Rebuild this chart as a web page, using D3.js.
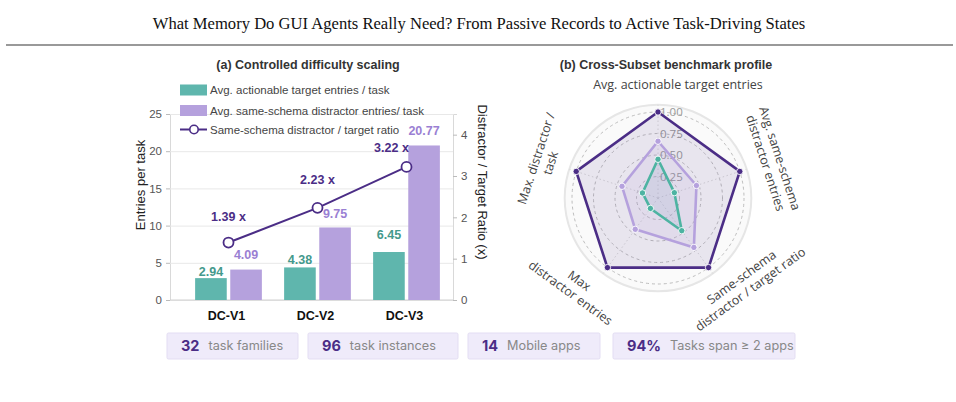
<!DOCTYPE html>
<html>
<head>
<meta charset="utf-8">
<script src="https://cdn.jsdelivr.net/npm/d3@7/dist/d3.min.js"></script>
<style>
  body { margin: 0; background: #fff; }
  svg { display: block; }
</style>
</head>
<body>
<svg id="chart"></svg>
<script>
// ---- data ----
const categories = ['DC-V1', 'DC-V2', 'DC-V3']
const targetEntries = [2.94, 4.38, 6.45]
const distractorEntries = [4.09, 9.75, 20.77]
const ratioValues = [1.39, 2.23, 3.22]
const leftTicks = [0, 5, 10, 15, 20, 25]
const rightTicks = [0, 1, 2, 3, 4]
const legendLabels = [
  'Avg. actionable target entries / task',
  'Avg. same-schema distractor entries/ task',
  'Same-schema distractor / target ratio'
]

const radarAxes = [
  ['Avg. actionable target entries'],
  ['Avg. same-schema', 'distractor entries'],
  ['Same-schema', 'distractor / target ratio'],
  ['Max', 'distractor entries'],
  ['Max. distractor /', 'task']
]
const radarV3 = [1.0, 1.0, 1.0, 1.0, 1.0]
const radarV2 = [0.66, 0.47, 0.71, 0.45, 0.44]
const radarV1 = [0.45, 0.20, 0.47, 0.15, 0.19]
const radarTicks = [0.25, 0.5, 0.75, 1.0]

const statNumbers = ['32', '96', '14', '94%']
const statLabels = ['task families', 'task instances', 'Mobile apps', 'Tasks span \u2265 2 apps']

const pageTitle = 'What Memory Do GUI Agents Really Need? From Passive Records to Active Task-Driving States'

// ---- colours ----
const TEAL = '#5fb6ad'
const TEAL_TXT = '#44998c'
const LAV = '#b5a1dd'
const LAV_TXT = '#9a7fd3'
const DARK = '#4b2d86'

const width = 956
const height = 402
const svg = d3.select('#chart').attr('width', width).attr('height', height)
const sans = "'Liberation Sans', Arial, sans-serif"

// page header
svg.append('text')
  .attr('x', 479).attr('y', 29)
  .attr('text-anchor', 'middle')
  .style('font-family', "'Liberation Serif', 'DejaVu Serif', serif")
  .style('font-size', '16.6px')
  .style('fill', '#111')
  .text(pageTitle)
svg.append('line')
  .attr('x1', 6).attr('x2', 953).attr('y1', 45).attr('y2', 45)
  .attr('stroke', '#777').attr('stroke-width', 1.6)

// ================= (a) bar chart =================
const padLeft = 170, padRight = 453, padTop = 114, baseY = 300

const yLeft = d3.scaleLinear().domain([0, 25]).range([baseY, padTop])
const yRight = d3.scaleLinear().domain([0, 4.5]).range([baseY, padTop])
const x0 = d3.scaleBand().domain(categories).range([184, 451]).paddingInner(0.25).paddingOuter(0.125)
const x1 = d3.scaleBand().domain(['t', 'd']).range([0, x0.bandwidth()]).paddingInner(0.1)

svg.append('text')
  .attr('x', 308).attr('y', 69)
  .attr('text-anchor', 'middle')
  .style('font-family', sans).style('font-weight', 'bold')
  .style('font-size', '12.5px').style('fill', '#333')
  .text('(a) Controlled difficulty scaling')

// grid + left axis
svg.append('g')
  .attr('transform', 'translate(' + padLeft + ',0)')
  .call(d3.axisLeft(yLeft).tickValues(leftTicks).tickSize(-(padRight - padLeft)).tickPadding(8))
  .call(g => g.select('.domain').attr('stroke', '#d9d9d9'))
  .call(g => g.selectAll('.tick line').attr('stroke', '#e8e8e8'))
  .call(g => g.selectAll('.tick text').style('font-family', sans).style('font-size', '11.5px').style('fill', '#555'))
svg.append('g')
  .attr('transform', 'translate(' + padLeft + ',0)')
  .call(d3.axisLeft(yLeft).tickValues(leftTicks).tickSize(4).tickFormat(''))
  .call(g => g.select('.domain').remove())
  .call(g => g.selectAll('.tick line').attr('stroke', '#bbb'))

// right axis
svg.append('g')
  .attr('transform', 'translate(' + padRight + ',0)')
  .call(d3.axisRight(yRight).tickValues(rightTicks).tickFormat(d3.format('d')).tickSize(4).tickPadding(4))
  .call(g => g.select('.domain').attr('stroke', '#d9d9d9'))
  .call(g => g.selectAll('.tick line').attr('stroke', '#bbb'))
  .call(g => g.selectAll('.tick text').style('font-family', sans).style('font-size', '11.5px').style('fill', '#555'))

// baseline
svg.append('line')
  .attr('x1', padLeft).attr('x2', padRight).attr('y1', baseY).attr('y2', baseY)
  .attr('stroke', '#d0d0d0')

// axis titles
svg.append('text')
  .attr('transform', 'translate(140,185) rotate(-90)')
  .attr('text-anchor', 'middle').attr('dy', '0.35em')
  .style('font-family', sans).style('font-size', '13px').style('fill', '#222')
  .text('Entries per task')
svg.append('text')
  .attr('transform', 'translate(483,182) rotate(90)')
  .attr('text-anchor', 'middle').attr('dy', '0.35em')
  .style('font-family', sans).style('font-size', '13px').style('fill', '#222')
  .text('Distractor / Target Ratio (x)')

// bars
const groups = svg.append('g').selectAll('g')
  .data(categories)
  .join('g')
  .attr('transform', d => 'translate(' + x0(d) + ',0)')
groups.append('rect')
  .attr('x', x1('t')).attr('width', x1.bandwidth())
  .attr('y', (d, i) => yLeft(targetEntries[i]))
  .attr('height', (d, i) => baseY - yLeft(targetEntries[i]))
  .attr('fill', TEAL)
groups.append('rect')
  .attr('x', x1('d')).attr('width', x1.bandwidth())
  .attr('y', (d, i) => yLeft(distractorEntries[i]))
  .attr('height', (d, i) => baseY - yLeft(distractorEntries[i]))
  .attr('fill', LAV)

// value labels (layout nudges so they stay clear of the line)
const tealLift = [7, 8, 17]
const lavLift = [15, 14, 15]
groups.append('text')
  .attr('x', x1('t') + x1.bandwidth() / 2)
  .attr('y', (d, i) => yLeft(targetEntries[i]) - tealLift[i])
  .attr('dy', '0.35em').attr('text-anchor', 'middle')
  .style('font-family', sans).style('font-weight', 'bold').style('font-size', '12.5px')
  .style('fill', TEAL_TXT)
  .text((d, i) => targetEntries[i].toFixed(2))
groups.append('text')
  .attr('x', x1('d') + x1.bandwidth() / 2)
  .attr('y', (d, i) => yLeft(distractorEntries[i]) - lavLift[i])
  .attr('dy', '0.35em').attr('text-anchor', 'middle')
  .style('font-family', sans).style('font-weight', 'bold').style('font-size', '12.5px')
  .style('fill', LAV_TXT)
  .text((d, i) => distractorEntries[i].toFixed(2))

// ratio line
const cx = d => x0(d) + x0.bandwidth() / 2
const line = d3.line()
  .x((d, i) => cx(categories[i]))
  .y(d => yRight(d))
svg.append('path')
  .attr('d', line(ratioValues))
  .attr('fill', 'none').attr('stroke', DARK).attr('stroke-width', 2)
svg.append('g').selectAll('circle')
  .data(ratioValues)
  .join('circle')
  .attr('cx', (d, i) => cx(categories[i]))
  .attr('cy', d => yRight(d))
  .attr('r', 5)
  .attr('fill', '#fff').attr('stroke', DARK).attr('stroke-width', 1.8)
const ratioDx = [0, 0, -15]
const ratioDy = [26, 28, 19]
svg.append('g').selectAll('text')
  .data(ratioValues)
  .join('text')
  .attr('x', (d, i) => cx(categories[i]) + ratioDx[i])
  .attr('y', (d, i) => yRight(d) - ratioDy[i])
  .attr('dy', '0.35em').attr('text-anchor', 'middle')
  .style('font-family', sans).style('font-weight', 'bold').style('font-size', '12.5px')
  .style('fill', DARK)
  .text(d => d.toFixed(2) + ' x')

// category labels
svg.append('g').selectAll('text')
  .data(categories)
  .join('text')
  .attr('x', d => cx(d) - 2)
  .attr('y', 316).attr('dy', '0.35em').attr('text-anchor', 'middle')
  .style('font-family', sans).style('font-weight', 'bold').style('font-size', '12.5px')
  .style('fill', '#111')
  .text(d => d)

// legend
const legend = svg.append('g').attr('transform', 'translate(180,0)')
const legendY = [90, 110.5, 129.5]
legend.append('rect').attr('x', 0).attr('y', legendY[0] - 5.5).attr('width', 27).attr('height', 11).attr('fill', TEAL)
legend.append('rect').attr('x', 0).attr('y', legendY[1] - 5.5).attr('width', 27).attr('height', 11).attr('fill', LAV)
legend.append('line').attr('x1', 0).attr('x2', 27).attr('y1', legendY[2]).attr('y2', legendY[2])
  .attr('stroke', DARK).attr('stroke-width', 2)
legend.append('circle').attr('cx', 14).attr('cy', legendY[2]).attr('r', 4.2)
  .attr('fill', '#fff').attr('stroke', DARK).attr('stroke-width', 1.6)
legend.selectAll('text.lg')
  .data(legendLabels)
  .join('text')
  .attr('class', 'lg')
  .attr('x', 30).attr('y', (d, i) => legendY[i]).attr('dy', '0.35em')
  .style('font-family', sans).style('font-size', '11.5px').style('fill', '#444')
  .text(d => d)

// ================= (b) radar =================
const rcx = 658, rcy = 198
const rScale = d3.scaleLinear().domain([0, 1]).range([0, 86])
const nAxes = radarAxes.length
const ang = i => i * 2 * Math.PI / nAxes
const pt = (v, i) => [rcx + rScale(v) * Math.sin(ang(i)), rcy - rScale(v) * Math.cos(ang(i))]

svg.append('text')
  .attr('x', 666).attr('y', 69)
  .attr('text-anchor', 'middle')
  .style('font-family', sans).style('font-weight', 'bold')
  .style('font-size', '12.5px').style('fill', '#333')
  .text('(b) Cross-Subset benchmark profile')

const radar = svg.append('g')
radar.append('circle')
  .attr('cx', rcx).attr('cy', rcy).attr('r', rScale(1.085))
  .attr('fill', '#fafafa').attr('stroke', '#e6e6e6').attr('stroke-width', 2)
radar.selectAll('circle.ring')
  .data(radarTicks)
  .join('circle')
  .attr('class', 'ring')
  .attr('cx', rcx).attr('cy', rcy).attr('r', d => rScale(d))
  .attr('fill', 'none').attr('stroke', '#bdbdbd').attr('stroke-width', 1)
  .attr('stroke-dasharray', '3,3')
radar.selectAll('line.spoke')
  .data(radarAxes)
  .join('line')
  .attr('class', 'spoke')
  .attr('x1', rcx).attr('y1', rcy)
  .attr('x2', (d, i) => pt(1.085, i)[0]).attr('y2', (d, i) => pt(1.085, i)[1])
  .attr('stroke', '#d8d8d8').attr('stroke-width', 1).attr('stroke-dasharray', '1.5,2.5')

const radarData = [
  { vals: radarV3, stroke: DARK, fill: 'rgba(75,45,134,0.10)' },
  { vals: radarV2, stroke: LAV, fill: 'rgba(181,161,221,0.14)' },
  { vals: radarV1, stroke: '#4db3a2', fill: 'rgba(120,150,190,0.14)' }
]
const radarLine = d3.line().curve(d3.curveLinearClosed)

// tick labels along the top axis
radar.selectAll('text.rt')
  .data(radarTicks)
  .join('text')
  .attr('class', 'rt')
  .attr('x', rcx + 2).attr('y', d => rcy - rScale(d)).attr('dy', '0.35em')
  .style('font-family', "'Open Sans', sans-serif").style('font-size', '11.5px').style('fill', '#999')
  .text(d => d.toFixed(2))

radarData.forEach(s => {
  radar.append('path')
    .attr('d', radarLine(s.vals.map((v, i) => pt(v, i))))
    .attr('fill', s.fill).attr('stroke', s.stroke).attr('stroke-width', 2.6)
    .attr('stroke-linejoin', 'round')
  radar.append('g').selectAll('circle')
    .data(s.vals)
    .join('circle')
    .attr('cx', (v, i) => pt(v, i)[0]).attr('cy', (v, i) => pt(v, i)[1])
    .attr('r', 3.2)
    .attr('fill', s.stroke).attr('stroke', '#fff').attr('stroke-width', 0.9)
})

// axis labels, tangential and kept upright
const labelNudge = [20, 0, -21, 15, 0]
radarAxes.forEach((lines, i) => {
  const deg = i * 360 / nAxes
  let rot = deg
  if (deg > 90 && deg < 270) rot = deg - 180
  else if (deg >= 270) rot = deg - 360
  const rr = 106 + lines.length * 7.3
  const a = ang(i)
  const px = rcx + rr * Math.sin(a) + labelNudge[i] * Math.cos(a)
  const py = rcy - rr * Math.cos(a) + labelNudge[i] * Math.sin(a)
  const t = svg.append('text')
    .attr('transform', 'translate(' + px + ',' + py + ') rotate(' + rot + ')')
    .attr('text-anchor', 'middle')
    .style('font-family', "'Open Sans', sans-serif").style('font-size', '12.5px').style('fill', '#444')
  const lh = 15
  lines.forEach((s, k) => {
    t.append('tspan')
      .attr('x', 0)
      .attr('y', (k - (lines.length - 1) / 2) * lh)
      .attr('dy', '0.35em')
      .text(s)
  })
})

// ================= stat boxes =================
const boxX = [167, 308, 468, 613]
const boxW = [131, 150, 132, 182]
const stats = svg.append('g')
statNumbers.forEach((num, i) => {
  const g = stats.append('g')
  g.append('rect')
    .attr('x', boxX[i]).attr('width', boxW[i])
    .attr('y', 333).attr('height', 26).attr('rx', 1.5)
    .attr('fill', '#efebfa').attr('stroke', '#e3ddf3')
  const nt = g.append('text')
    .attr('x', boxX[i] + 14).attr('y', 346).attr('dy', '0.35em')
    .style('font-family', "Inter, 'Liberation Sans', sans-serif").style('font-weight', 'bold')
    .style('font-size', '14.5px').style('fill', DARK)
    .text(num)
  const nw = nt.node().getComputedTextLength()
  g.append('text')
    .attr('x', boxX[i] + 14 + nw + 9).attr('y', 346).attr('dy', '0.35em')
    .style('font-family', "Inter, 'Liberation Sans', sans-serif")
    .style('font-size', '12.7px').style('fill', '#888')
    .text(statLabels[i])
})
</script>
</body>
</html>
